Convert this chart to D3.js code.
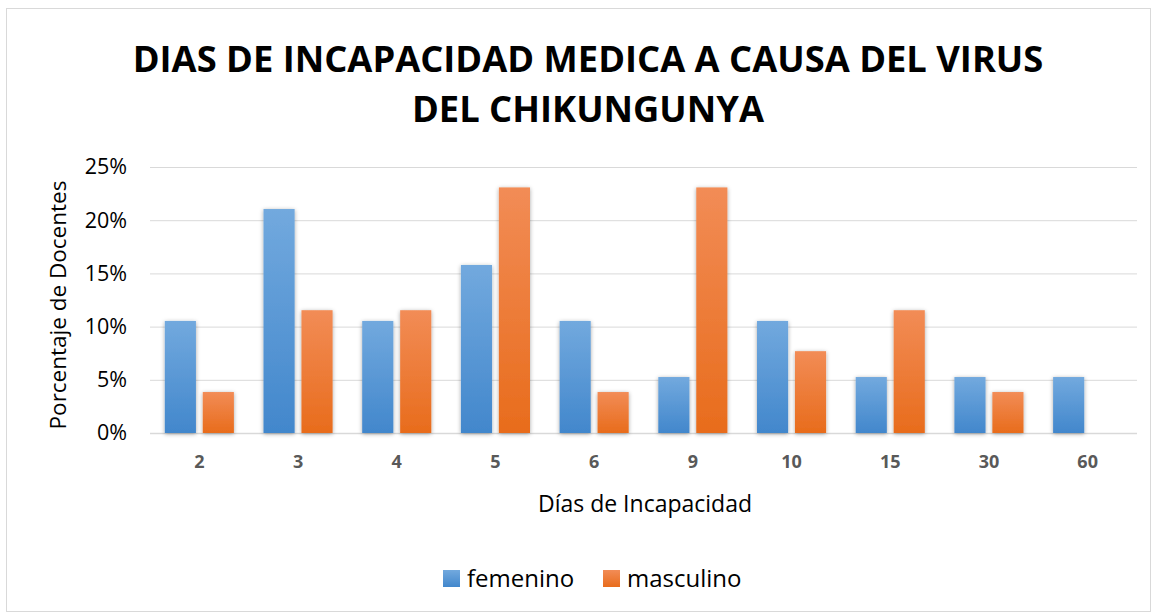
<!DOCTYPE html>
<html>
<head>
<meta charset="utf-8">
<script src="https://cdn.jsdelivr.net/npm/d3@7"></script>
<style>
  body { margin: 0; background: #fff; }
  text { font-family: "Open Sans", "Noto Sans", sans-serif; }
</style>
</head>
<body>
<script>
// Chart data
const categories = ["2", "3", "4", "5", "6", "9", "10", "15", "30", "60"];
const seriesNames = ["femenino", "masculino"];
const femenino = [10.53, 21.05, 10.53, 15.79, 10.53, 5.26, 10.53, 5.26, 5.26, 5.26];
const masculino = [3.85, 11.54, 11.54, 23.08, 3.85, 23.08, 7.69, 11.54, 3.85, 0];
const yTicks = [0, 5, 10, 15, 20, 25];
const titleLines = ["DIAS DE INCAPACIDAD MEDICA A CAUSA DEL VIRUS", "DEL CHIKUNGUNYA"];

const W = 1157, H = 615;
const margin = { top: 167, right: 20, bottom: 182, left: 150 },
    width = 1137 - margin.left,
    height = 433 - margin.top;

const svg = d3.select("body").append("svg")
    .attr("width", W)
    .attr("height", H);

// gradients + shadow
const defs = svg.append("defs");
const grads = [
    { id: "gBlue", top: "#72a9de", bottom: "#4287cc" },
    { id: "gOrange", top: "#f28c56", bottom: "#e86c1c" }
];
grads.forEach(g => {
    const lg = defs.append("linearGradient")
        .attr("id", g.id).attr("x1", 0).attr("y1", 0).attr("x2", 0).attr("y2", 1);
    lg.append("stop").attr("offset", "0%").attr("stop-color", g.top);
    lg.append("stop").attr("offset", "100%").attr("stop-color", g.bottom);
});
const f = defs.append("filter").attr("id", "shadow")
    .attr("x", "-30%").attr("y", "-10%").attr("width", "160%").attr("height", "130%");
f.append("feDropShadow").attr("dx", 0).attr("dy", 1).attr("stdDeviation", 2)
    .attr("flood-color", "#000").attr("flood-opacity", 0.35);

// chart border
svg.append("rect")
    .attr("x", 6.5).attr("y", 8.5)
    .attr("width", 1144).attr("height", 603)
    .attr("fill", "none").attr("stroke", "#d9d9d9");

// title
svg.append("g").selectAll("text")
    .data(titleLines)
    .join("text")
    .attr("x", 588)
    .attr("y", (d, i) => 72 + i * 50)
    .attr("text-anchor", "middle")
    .attr("font-size", 36.3)
    .attr("font-weight", "bold")
    .attr("fill", "#000")
    .text(d => d);

const g = svg.append("g")
    .attr("transform", `translate(${margin.left},${margin.top})`);

// scales
const x = d3.scaleBand()
    .domain(categories)
    .range([0, width])
    .paddingInner(0.3)
    .paddingOuter(0.15);

const x1 = d3.scaleBand()
    .domain(seriesNames)
    .range([0, x.bandwidth()])
    .paddingInner(0.18);

const y = d3.scaleLinear()
    .domain([0, 25])
    .range([height, 0]);

// grid
g.append("g")
    .selectAll("line")
    .data(yTicks)
    .join("line")
    .attr("x1", 0).attr("x2", width)
    .attr("y1", d => y(d) + 0.5).attr("y2", d => y(d) + 0.5)
    .attr("stroke", "#d9d9d9")
    .attr("stroke-width", d => d === 0 ? 1.5 : 1);

// y axis labels
const yAxis = g.append("g")
    .call(d3.axisLeft(y).tickValues(yTicks).tickFormat(d => d + "%").tickSize(0).tickPadding(23));
yAxis.select(".domain").remove();
yAxis.selectAll("text")
    .attr("font-size", 21.5)
    .attr("fill", "#000")
    .style("font-family", "'Open Sans', sans-serif");

// x axis labels
const xAxis = g.append("g")
    .attr("transform", `translate(0,${height})`)
    .call(d3.axisBottom(x).tickSize(0).tickPadding(22));
xAxis.select(".domain").remove();
xAxis.selectAll("text")
    .attr("font-size", 18)
    .attr("font-weight", "bold")
    .attr("fill", "#595959")
    .style("font-family", "'Open Sans', sans-serif");

// bars
const rows = categories.map((c, i) => ({ cat: c, femenino: femenino[i], masculino: masculino[i] }));
const colorId = { femenino: "gBlue", masculino: "gOrange" };

g.append("g")
    .selectAll("g")
    .data(rows)
    .join("g")
    .attr("transform", d => `translate(${x(d.cat)},0)`)
    .selectAll("rect")
    .data(d => seriesNames.map(s => ({ key: s, value: d[s] })).filter(v => v.value > 0))
    .join("rect")
    .attr("x", d => x1(d.key))
    .attr("y", d => y(d.value))
    .attr("width", x1.bandwidth())
    .attr("height", d => height - y(d.value))
    .attr("fill", d => `url(#${colorId[d.key]})`)
    .attr("filter", "url(#shadow)");

// axis titles
svg.append("text")
    .attr("transform", "translate(66,305) rotate(-90)")
    .attr("text-anchor", "middle")
    .attr("font-size", 22.5)
    .attr("fill", "#000")
    .text("Porcentaje de Docentes");

svg.append("text")
    .attr("x", 645).attr("y", 512)
    .attr("text-anchor", "middle")
    .attr("font-size", 23)
    .attr("fill", "#000")
    .text("Días de Incapacidad");

// legend
const legendX = [443, 603];
const legend = svg.append("g")
    .selectAll("g")
    .data(seriesNames)
    .join("g")
    .attr("transform", (d, i) => `translate(${legendX[i]},570)`);
legend.append("rect")
    .attr("width", 17).attr("height", 17)
    .attr("fill", d => `url(#${colorId[d]})`);
legend.append("text")
    .attr("x", 24).attr("y", 17)
    .attr("font-size", 24)
    .attr("fill", "#000")
    .text(d => d);
</script>
</body>
</html>
